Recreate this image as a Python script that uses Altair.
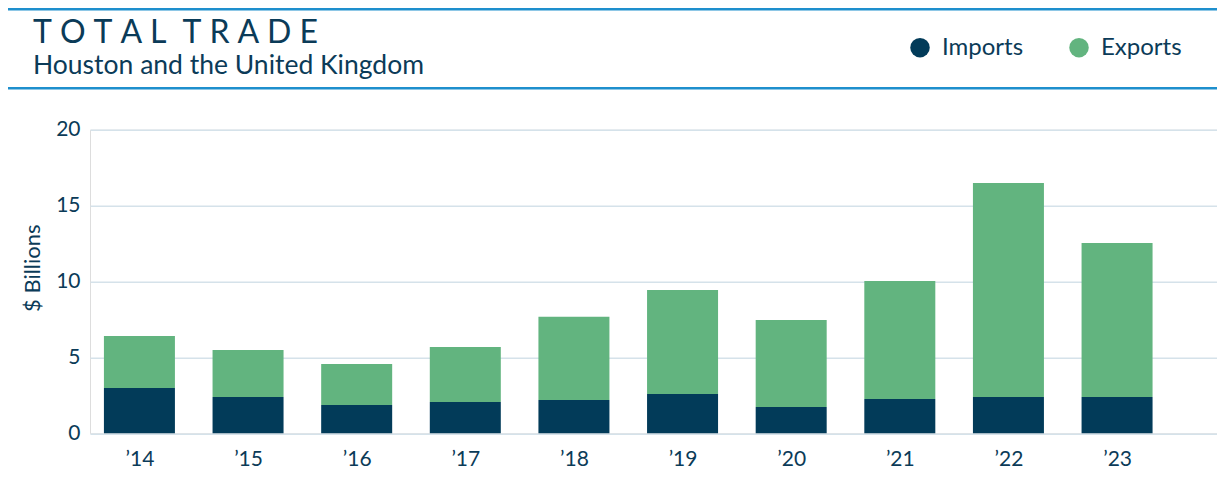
import altair as alt
import pandas as pd

years = [2014, 2015, 2016, 2017, 2018, 2019, 2020, 2021, 2022, 2023]
imports = [2.98, 2.39, 1.86, 2.06, 2.19, 2.59, 1.73, 2.26, 2.39, 2.39]
exports = [3.43, 3.10, 2.70, 3.63, 5.49, 6.85, 5.73, 7.77, 14.10, 10.15]
series = ["Imports", "Exports"]
colors = ["#023b59", "#62b47f"]
title_text = "T\u2005O\u2005T\u2005A\u2005L\u2002T\u2005R\u2005A\u2005D\u2005E"
subtitle_text = "Houston and the United Kingdom"

TXT = "#0b3b58"
FONT = "Lato"

rows = []
for i, y in enumerate(years):
    rows.append({"year": y, "series": "Imports", "value": imports[i], "ord": 0})
    rows.append({"year": y, "series": "Exports", "value": exports[i], "ord": 1})
df = pd.DataFrame(rows)

bars = alt.Chart(df).mark_bar(size=71).encode(
    x=alt.X("year:Q",
            scale=alt.Scale(domain=[2013.545, 2023.92], nice=False, zero=False, padding=0),
            axis=alt.Axis(values=years, labelExpr="'\u2019' + (datum.value - 2000)",
                          grid=False, ticks=False, domain=False, labelPadding=15,
                          labelFontSize=21, labelColor=TXT, labelFont=FONT, title=None)),
    y=alt.Y("value:Q", stack="zero",
            scale=alt.Scale(domain=[0, 20], nice=False),
            axis=alt.Axis(values=[0, 5, 10, 15, 20], grid=True, gridColor="#d5e2ea",
                          gridWidth=1.5, ticks=False, domain=False, labelPadding=10,
                          labelFontSize=21, labelColor=TXT, labelFont=FONT,
                          title="$ Billions", titleFontSize=22, titleColor=TXT,
                          titleFont=FONT, titleFontWeight="normal",
                          titleX=-51, titleY=138, titleAngle=270,
                          titleAlign="center", titleBaseline="alphabetic")),
    color=alt.Color("series:N", scale=alt.Scale(domain=series, range=colors),
                    legend=alt.Legend(orient="none", legendX=818, legendY=-94,
                                      direction="horizontal", title=None,
                                      symbolType="circle", symbolSize=380,
                                      symbolStrokeWidth=0, labelFontSize=24,
                                      labelColor=TXT, labelFont=FONT, labelOffset=10,
                                      columnPadding=43, padding=0)),
    order=alt.Order("ord:Q", sort="ascending"),
)

one = alt.Data(values=[{"a": 1}])

title = alt.Chart(one).mark_text(align="left", baseline="alphabetic", fontSize=32,
                                 font=FONT, fontWeight="normal", color=TXT).encode(
    x=alt.value(-57), y=alt.value(-86.4), text=alt.value(title_text))
subtitle = alt.Chart(one).mark_text(align="left", baseline="alphabetic", fontSize=26.5,
                                    font=FONT, color=TXT).encode(
    x=alt.value(-57), y=alt.value(-55.7), text=alt.value(subtitle_text))
line_top = alt.Chart(one).mark_rule(color="#1e8fcd", strokeWidth=2.5).encode(
    x=alt.value(-82), x2=alt.value(1127), y=alt.value(-120.5))
line_bot = alt.Chart(one).mark_rule(color="#1e8fcd", strokeWidth=2.5).encode(
    x=alt.value(-82), x2=alt.value(1127), y=alt.value(-41.4))

chart = alt.layer(bars, line_top, line_bot, title, subtitle).properties(
    width=1127, height=303.6,
    padding={"left": 82, "top": 121.7, "right": 0, "bottom": 39.7},
    autosize=alt.AutoSizeParams(type="none"),
).configure_view(stroke=None).configure(font=FONT)

chart.save("out.html", embed_options={"renderer": "svg", "actions": False})
